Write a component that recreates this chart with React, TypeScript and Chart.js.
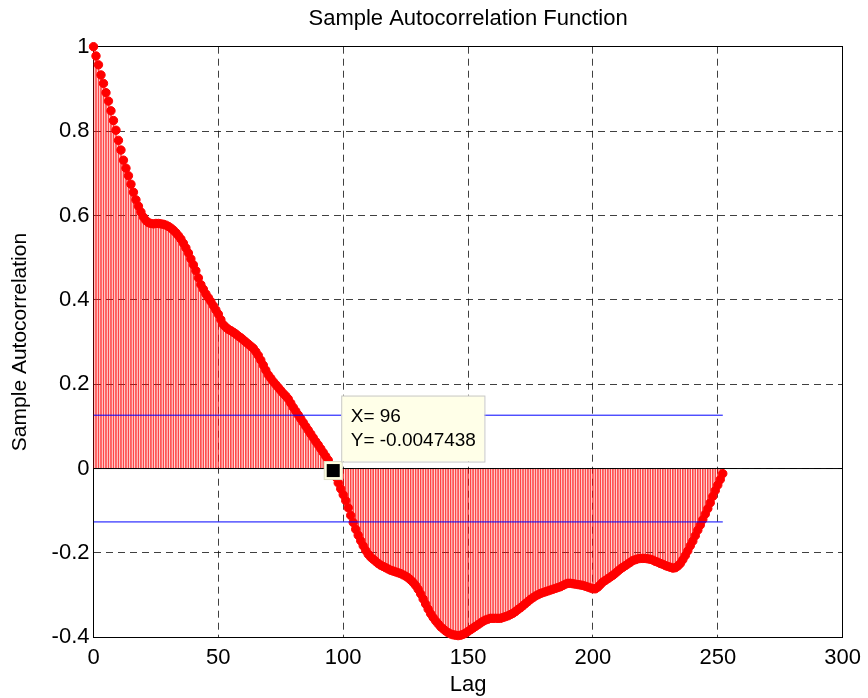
import React, { useEffect, useRef } from 'react';
import { Chart, registerables } from 'chart.js';

Chart.register(...registerables);

// Sample autocorrelation values for lags 0..252
const acf: number[] = [
  1.000, 0.978, 0.957, 0.933, 0.913, 0.891, 0.871, 0.848, 0.825, 0.802,
  0.778, 0.755, 0.731, 0.712, 0.694, 0.674, 0.655, 0.637, 0.622, 0.608,
  0.596, 0.588, 0.583, 0.581, 0.580, 0.581, 0.581, 0.580, 0.579, 0.577,
  0.574, 0.570, 0.565, 0.559, 0.552, 0.544, 0.534, 0.523, 0.511, 0.497,
  0.483, 0.469, 0.452, 0.436, 0.425, 0.414, 0.405, 0.396, 0.386, 0.376,
  0.366, 0.353, 0.341, 0.335, 0.330, 0.327, 0.323, 0.319, 0.314, 0.310,
  0.305, 0.300, 0.295, 0.290, 0.285, 0.277, 0.268, 0.257, 0.245, 0.233,
  0.222, 0.214, 0.206, 0.199, 0.192, 0.185, 0.178, 0.172, 0.165, 0.155,
  0.145, 0.136, 0.127, 0.118, 0.109, 0.100, 0.091, 0.082, 0.073, 0.064,
  0.056, 0.047, 0.038, 0.029, 0.020, 0.008, -0.0047438, -0.020, -0.034, -0.048,
  -0.062, -0.076, -0.093, -0.111, -0.128, -0.144, -0.158, -0.171, -0.183, -0.194,
  -0.203, -0.210, -0.215, -0.220, -0.225, -0.229, -0.232, -0.235, -0.238, -0.241,
  -0.243, -0.245, -0.247, -0.249, -0.252, -0.255, -0.259, -0.264, -0.270, -0.277,
  -0.286, -0.297, -0.309, -0.321, -0.333, -0.344, -0.353, -0.361, -0.368, -0.375,
  -0.380, -0.385, -0.389, -0.392, -0.394, -0.395, -0.396, -0.395, -0.393, -0.390,
  -0.386, -0.382, -0.378, -0.374, -0.370, -0.366, -0.362, -0.359, -0.357, -0.355,
  -0.355, -0.355, -0.355, -0.355, -0.353, -0.351, -0.349, -0.346, -0.343, -0.339,
  -0.334, -0.330, -0.325, -0.320, -0.315, -0.310, -0.306, -0.302, -0.299, -0.296,
  -0.294, -0.292, -0.290, -0.288, -0.286, -0.284, -0.282, -0.280, -0.277, -0.274,
  -0.272, -0.272, -0.273, -0.274, -0.275, -0.276, -0.277, -0.279, -0.281, -0.283,
  -0.285, -0.285, -0.281, -0.275, -0.269, -0.265, -0.261, -0.257, -0.253, -0.248,
  -0.243, -0.238, -0.234, -0.230, -0.226, -0.222, -0.218, -0.216, -0.214, -0.213,
  -0.213, -0.213, -0.214, -0.215, -0.217, -0.220, -0.222, -0.225, -0.227, -0.230,
  -0.232, -0.234, -0.236, -0.235, -0.231, -0.225, -0.216, -0.206, -0.195, -0.183,
  -0.172, -0.159, -0.146, -0.134, -0.121, -0.108, -0.095, -0.081, -0.066, -0.052,
  -0.039, -0.026, -0.012,
];

const boundX: number[] = [0, 252];
const upperBound = 0.1265;
const lowerBound = -0.1265;
const baselineX: number[] = [0, 300];
const xTicks: number[] = [0, 50, 100, 150, 200, 250, 300];
const yTicks: number[] = [-0.4, -0.2, 0, 0.2, 0.4, 0.6, 0.8, 1];
const tipLag = 96;
const tipValue = -0.0047438;
const tipLines: string[] = ['X= 96', 'Y= -0.0047438'];
const titleText = 'Sample Autocorrelation Function';
const xLabel = 'Lag';
const yLabel = 'Sample Autocorrelation';

const FONT = "'Liberation Sans', Arial, sans-serif";

const datatipPlugin = {
  id: 'datatip',
  afterDraw(chart: any) {
    const { ctx, scales } = chart;
    const px = scales.x.getPixelForValue(tipLag);
    const py = scales.y.getPixelForValue(tipValue);
    ctx.save();
    // marker
    ctx.fillStyle = '#FFFFE1';
    ctx.fillRect(px - 9, py - 9, 18, 18);
    ctx.strokeStyle = '#E0E0C8';
    ctx.lineWidth = 1;
    ctx.strokeRect(px - 9, py - 9, 18, 18);
    ctx.fillStyle = '#000';
    ctx.fillRect(px - 6.5, py - 6.5, 13, 13);
    // box
    ctx.font = `19px ${FONT}`;
    const tw = Math.max(...tipLines.map((t) => ctx.measureText(t).width));
    const bx = px + 8;
    const by = py - 75;
    const bw = tw + 18;
    const bh = 66;
    ctx.fillStyle = '#FFFFE8';
    ctx.fillRect(bx, by, bw, bh);
    ctx.strokeStyle = '#C8C8C8';
    ctx.strokeRect(bx + 0.5, by + 0.5, bw, bh);
    ctx.fillStyle = '#000';
    ctx.textBaseline = 'alphabetic';
    ctx.textAlign = 'left';
    ctx.fillText(tipLines[0], bx + 9.5, by + 26.5);
    ctx.fillText(tipLines[1], bx + 9.5, by + 50);
    ctx.restore();
  },
};

export default function App() {
  const canvasRef = useRef<HTMLCanvasElement | null>(null);

  useEffect(() => {
    const canvas = canvasRef.current;
    if (!canvas) return;
    const stems = acf.map((v, i) => ({ x: i, y: v }));
    const gridColor = 'rgba(0,0,0,0.75)';
    const chart = new Chart(canvas, {
      type: 'bar',
      data: {
        datasets: [
          {
            type: 'line',
            label: 'zero',
            data: baselineX.map((x) => ({ x, y: 0 })),
            borderColor: '#000',
            borderWidth: 1,
            pointRadius: 0,
            order: 0,
          },
          {
            type: 'line',
            label: 'upper',
            data: boundX.map((x) => ({ x, y: upperBound })),
            borderColor: '#0000FF',
            borderWidth: 1,
            pointRadius: 0,
            order: 1,
          },
          {
            type: 'line',
            label: 'lower',
            data: boundX.map((x) => ({ x, y: lowerBound })),
            borderColor: '#0000FF',
            borderWidth: 1,
            pointRadius: 0,
            order: 1,
          },
          {
            type: 'line',
            label: 'markers',
            data: stems,
            showLine: false,
            pointRadius: 4.2,
            pointBackgroundColor: '#FF0000',
            pointBorderColor: '#FF0000',
            pointBorderWidth: 1,
            clip: false,
            order: 2,
          } as any,
          {
            type: 'bar',
            label: 'stems',
            data: stems,
            backgroundColor: 'rgba(255,0,0,0.72)',
            barThickness: 1,
            borderWidth: 0,
            order: 3,
          } as any,
        ],
      },
      options: {
        responsive: false,
        devicePixelRatio: 1,
        animation: false,
        events: [],
        layout: { padding: { left: 0, right: 24.7, top: 0, bottom: 0 } },
        plugins: {
          legend: { display: false },
          tooltip: { enabled: false },
          title: { display: false },
        },
        scales: {
          x: {
            type: 'linear',
            position: 'bottom',
            min: 0,
            max: 300,
            offset: false,
            afterBuildTicks: (s: any) => {
              s.ticks = xTicks.map((v) => ({ value: v }));
            },
            afterFit: (s: any) => {
              s.height = 60.7;
            },
            grid: { display: true, color: gridColor, lineWidth: 1, drawTicks: false, offset: false },
            border: { display: true, color: '#000', width: 1, dash: [7, 5] },
            ticks: {
              color: '#000',
              padding: 7,
              maxRotation: 0,
              font: { family: FONT, size: 22 },
              callback: (v: any) => String(v),
            },
            title: {
              display: true,
              text: xLabel,
              color: '#000',
              font: { family: FONT, size: 22 },
              padding: { top: 0, bottom: 0 },
            },
          },
          y: {
            type: 'linear',
            position: 'left',
            min: -0.4,
            max: 1,
            afterBuildTicks: (s: any) => {
              s.ticks = yTicks.map((v) => ({ value: v }));
            },
            afterFit: (s: any) => {
              s.width = 93.5;
            },
            grid: { display: true, color: gridColor, lineWidth: 1, drawTicks: false },
            border: { display: true, color: '#000', width: 1, dash: [7, 5] },
            ticks: {
              color: '#000',
              padding: 4,
              font: { family: FONT, size: 22 },
              callback: (v: any) => String(Number(Number(v).toFixed(1))),
            },
            title: {
              display: true,
              text: yLabel,
              color: '#000',
              font: { family: FONT, size: 21 },
              padding: { top: 8, bottom: 0 },
            },
          },
          x2: {
            type: 'linear',
            position: 'top',
            min: 0,
            max: 300,
            afterFit: (s: any) => {
              s.height = 46.7;
            },
            grid: { display: false, drawTicks: false },
            border: { display: true, color: '#000', width: 1 },
            ticks: { display: false },
            title: {
              display: true,
              text: titleText,
              color: '#000',
              font: { family: FONT, size: 22 },
              padding: { top: 6, bottom: 0 },
            },
          },
          y2: {
            type: 'linear',
            position: 'right',
            min: -0.4,
            max: 1,
            afterFit: (s: any) => {
              s.width = 0;
            },
            grid: { display: false, drawTicks: false },
            border: { display: true, color: '#000', width: 1 },
            ticks: { display: false },
          },
        },
      } as any,
      plugins: [datatipPlugin],
    });
    return () => chart.destroy();
  }, []);

  return (
    <div style={{ position: 'absolute', left: 0, top: 0, width: 868, height: 698, background: '#fff' }}>
      <canvas ref={canvasRef} width={868} height={698} style={{ display: 'block' }} />
    </div>
  );
}
